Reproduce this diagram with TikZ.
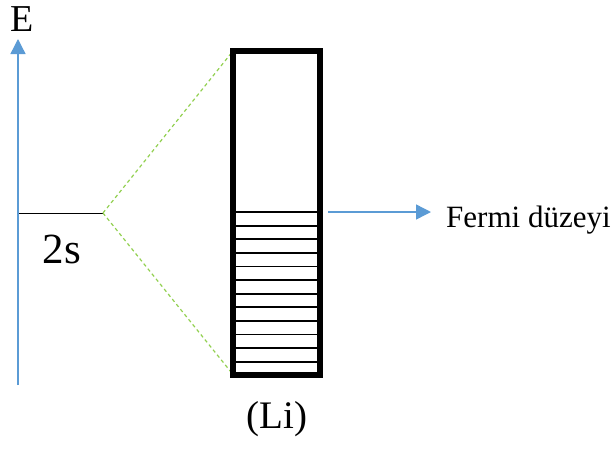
\documentclass[tikz,border=0pt]{standalone}
\usepackage{fontspec}
\setmainfont{Liberation Serif}
\usetikzlibrary{arrows.meta}
\definecolor{axblue}{RGB}{91,155,213}
\definecolor{dgreen}{RGB}{146,208,80}
\tikzset{
  lbl/.style={inner sep=0pt, font=\fontsize{#1}{#1}\selectfont},
  bluearrow/.style={draw=axblue, line width=1.4pt, -{Triangle[length=15pt,width=15pt]}},
  greendash/.style={draw=dgreen, line width=1.2pt, dash pattern=on 3.5pt off 3pt},
  level/.style={draw=black, line width=1.8pt},
}
\begin{document}
\begin{tikzpicture}[x=1pt,y=-1pt]
\useasboundingbox (0,0) rectangle (614,448);
% axis
\coordinate (axbot) at (18,385);
\coordinate (axtop) at (18,39);
\draw[bluearrow] (axbot) -- (axtop);
\node[lbl=38, anchor=base] (E) at (22,31) {E};
% 2s level
\coordinate (sL) at (19,213);
\coordinate (sR) at (103,213);
\draw[black, line width=1pt] (sL) -- (sR);
\node[lbl=43, anchor=base] (s2) at (62,263) {2s};
% band
\coordinate (tl) at (233,51);
\coordinate (bl) at (233,374.5);
\coordinate (tr) at (320,51);
\coordinate (br) at (320,374.5);
\draw[greendash] (sR) -- (tl);
\draw[greendash] (sR) -- (bl);
\foreach \i in {0,...,11} {
  \draw[level] (233,{212+\i*13.6}) -- (320,{212+\i*13.6});
}
\draw[black, line width=6pt] (tl) rectangle (br);
% Fermi
\coordinate (fS) at (328,212);
\node[lbl=31, anchor=base west] (fermi) at (446,227) {Fermi düzeyi};
\draw[bluearrow] (fS) -- (431,212);
\node[lbl=39, anchor=base] (li) at (277,428) {(Li)};
\end{tikzpicture}
\end{document}
